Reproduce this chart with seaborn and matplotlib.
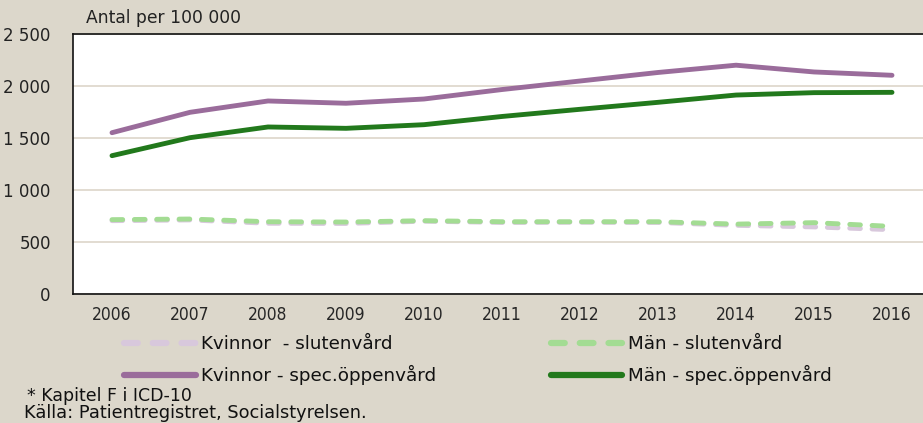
import numpy as np
import pandas as pd
import seaborn as sns
import matplotlib.pyplot as plt
from matplotlib.ticker import FuncFormatter

# ============================================================
# Data (antal per 100 000)
# ============================================================
years = [2006, 2007, 2008, 2009, 2010, 2011, 2012, 2013, 2014, 2015, 2016]
kvinnor_sluten = [705, 712, 680, 678, 700, 688, 690, 688, 660, 645, 618]
man_sluten = [715, 721, 695, 692, 705, 695, 695, 695, 672, 686, 650]
kvinnor_oppen = [1551, 1747, 1856, 1834, 1875, 1966, 2048, 2130, 2200, 2135, 2103]
man_oppen = [1330, 1503, 1606, 1593, 1628, 1707, 1776, 1843, 1913, 1936, 1939]

labels = ['Kvinnor  - slutenvård', 'Män - slutenvård',
          'Kvinnor - spec.öppenvård', 'Män - spec.öppenvård']

df = pd.DataFrame({'år': years,
                   labels[0]: kvinnor_sluten,
                   labels[1]: man_sluten,
                   labels[2]: kvinnor_oppen,
                   labels[3]: man_oppen})
df_long = df.melt(id_vars='år', var_name='serie', value_name='värde')

bg = '#dcd7cb'
colors = {labels[0]: '#d8c8dc', labels[1]: '#a3dc93',
          labels[2]: '#9a6c9b', labels[3]: '#22791c'}

sns.set_style('white')
plt.rcParams['font.family'] = ['DejaVu Sans']

fig = plt.figure(figsize=(9.23, 4.23), dpi=100, facecolor=bg)
ax = fig.add_axes([73 / 923, 1 - 294 / 423, 858 / 923, 260 / 423])
ax.set_facecolor('white')

# kvinnor sluten först, så att män sluten ligger ovanpå
for lab in labels:
    sub = df_long[df_long['serie'] == lab]
    dashed = 'slutenvård' in lab
    sns.lineplot(data=sub, x='år', y='värde', ax=ax, color=colors[lab],
                 linewidth=3.5, label=lab, legend=False,
                 solid_capstyle='round', dash_capstyle='round',
                 linestyle=(0, (2.2, 2.4)) if dashed else '-')

ax.set_xlim(2005.5, 2016.5)
ax.set_ylim(0, 2500)
ax.set_yticks(range(0, 2501, 500))
ax.yaxis.set_major_formatter(FuncFormatter(lambda v, p: f'{int(v):,}'.replace(',', ' ')))
ax.set_xticks(years)
ax.set_xticklabels([str(y) for y in years], fontsize=12.5, fontstretch='condensed')
ax.set_xticks(np.arange(2006.5, 2016, 1), minor=True)
ax.tick_params(axis='x', which='major', length=0, pad=9)
ax.tick_params(axis='x', which='minor', length=5, direction='in', width=1, color='#222222')
ax.tick_params(axis='y', length=0, pad=16, labelsize=12, labelcolor='#222222')
ax.grid(True, axis='y', color='#ddd5ca', linewidth=1.2)
ax.set_axisbelow(True)
ax.set_xlabel('')
ax.set_ylabel('')
for s in ['left', 'bottom', 'top']:
    ax.spines[s].set_color('#111111')
    ax.spines[s].set_linewidth(1.2)
ax.spines['right'].set_visible(False)

fig.text(86 / 923, 1 - 18 / 423, 'Antal per 100 000', fontsize=12.3,
         va='center', ha='left', color='#222222')

handles, hl = ax.get_legend_handles_labels()
order = [hl.index(labels[0]), hl.index(labels[2]), hl.index(labels[1]), hl.index(labels[3])]
leg = fig.legend([handles[i] for i in order], [hl[i] for i in order],
                 loc='upper left', bbox_to_anchor=(124 / 923, 1 - 335 / 423),
                 ncol=2, frameon=False, fontsize=13.2, handlelength=3.9,
                 handletextpad=0.3, columnspacing=6.25, labelspacing=0.65,
                 borderpad=0, borderaxespad=0)
for t in leg.get_texts():
    t.set_color('#111111')
for line in leg.get_lines():
    line.set_linewidth(4.5)

fig.text(27 / 923, 1 - 396 / 423, '* Kapitel F i ICD-10', fontsize=12.5,
         va='center', ha='left', color='#111111')
fig.text(24 / 923, 1 - 413 / 423, 'Källa: Patientregistret, Socialstyrelsen.',
         fontsize=12.8, va='center', ha='left', color='#111111')

plt.savefig('out.png', dpi=100, facecolor=bg)
